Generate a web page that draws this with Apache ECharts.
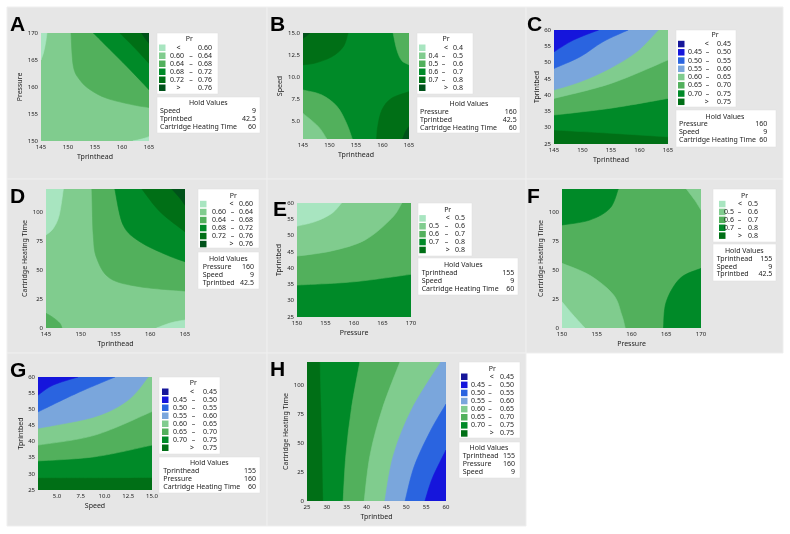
<!DOCTYPE html>
<html><head><meta charset="utf-8">
<script src="https://cdn.jsdelivr.net/npm/echarts@6/dist/echarts.min.js"></script>
<style>html,body{margin:0;padding:0;background:#fff}#c{width:790px;height:534px}</style>
</head><body><div id="c"></div>
<script>
// ================= DATA =================
// contour band colours
const MINT='#a8e5c0', LIGHT='#80cc8e', MID='#52b05c', GREEN='#008a28', DARK='#006f16', DARKEST='#00521a';
const NAVY='#16169a', BLUE='#1515dc', ROYAL='#2a64e0', SKY='#7aa6dc';
const colors6 = [MINT, LIGHT, MID, GREEN, DARK, DARKEST];
const colors5 = [MINT, LIGHT, MID, GREEN, DARK];
const colors8 = [NAVY, BLUE, ROYAL, SKY, LIGHT, MID, GREEN, DARK];

// legend break values (Pr)
const breaksA = ['0.60','0.64','0.68','0.72','0.76'];
const breaksB = ['0.4','0.5','0.6','0.7','0.8'];
const breaksC = ['0.45','0.50','0.55','0.60','0.65','0.70','0.75'];
const breaksD = ['0.60','0.64','0.68','0.72','0.76'];
const breaksE = ['0.5','0.6','0.7','0.8'];
const breaksF = ['0.5','0.6','0.7','0.8'];
const breaksG = ['0.45','0.50','0.55','0.60','0.65','0.70','0.75'];
const breaksH = ['0.45','0.50','0.55','0.60','0.65','0.70','0.75'];

// hold values
const holdA = [['Speed','9'],['Tprintbed','42.5'],['Cartridge Heating Time','60']];
const holdB = [['Pressure','160'],['Tprintbed','42.5'],['Cartridge Heating Time','60']];
const holdC = [['Pressure','160'],['Speed','9'],['Cartridge Heating Time','60']];
const holdD = [['Pressure','160'],['Speed','9'],['Tprintbed','42.5']];
const holdE = [['Tprinthead','155'],['Speed','9'],['Cartridge Heating Time','60']];
const holdF = [['Tprinthead','155'],['Speed','9'],['Tprintbed','42.5']];
const holdG = [['Tprinthead','155'],['Pressure','160'],['Cartridge Heating Time','60']];
const holdH = [['Tprinthead','155'],['Pressure','160'],['Speed','9']];

// axis ticks
const ticksTprinthead = [145,150,155,160,165];
const ticksPressure = [150,155,160,165,170];
const ticksSpeed = [5,7.5,10,12.5,15];
const ticksTprintbed = [25,30,35,40,45,50,55,60];
const ticksCHT = [0,25,50,75,100];

// contour regions: [band index, contour line points, closing corner points]
const regionsA = [
  [1, [], [[145,150],[165,150],[165,170],[145,170]]],
  [0, [[146.1,170],[145.9,168.5],[145.5,166.5],[145,165]], [[145,170]]],
  [0, [[162,150],[163.8,150.4],[165,150.8]], [[165,150]]],
  [2, [[150.55,170],[151.0,163.8],[152.2,161.3],[154.1,159.5],[157.2,157.9],[162.0,156.7],[165,156.2]], [[165,170]]],
  [3, [[154.7,170],[157.8,166.9],[160.9,163.8],[163.3,161.3],[165,159.5]], [[165,170]]],
  [4, [[159.6,170],[162.1,167.5],[165,164.4]], [[165,170]]],
  [5, [[163.6,170],[164.3,169],[165,168.1]], [[165,170]]]
];
const regionsB = [
  [3, [], [[145,3],[165,3],[165,15],[145,15]]],
  [4, [[153.5,15],[152.6,13.45],[150.4,12.3],[147.3,11.6],[145,11.4]], [[145,15]]],
  [5, [[146.3,15],[145.7,14.7],[145,14.4]], [[145,15]]],
  [2, [[162.0,15],[162.7,13.1],[163.6,11.9],[165,11.4]], [[165,15]]],
  [2, [[145,8.55],[148.5,8.0],[151.4,6.7],[153.2,4.8],[154.3,3]], [[145,3]]],
  [1, [[145,5.9],[147.9,4.4],[149.5,3]], [[145,3]]],
  [4, [[165,8.35],[161.7,7.6],[159.9,6.3],[159.1,4.4],[158.9,3]], [[165,3]]],
  [5, [[165,4.4],[164.3,3.8],[163.8,3]], [[165,3]]]
];
const regionsC = [
  [7, [], [[145,25],[165,25],[165,60],[145,60]]],
  [6, [[145,29.3],[155,28.3],[165,27.2]], [[165,60],[145,60]]],
  [5, [[145,33.9],[155,36.0],[165,39.0]], [[165,60],[145,60]]],
  [4, [[145,39.0],[155,43.6],[165,50.8]], [[165,60],[145,60]]],
  [3, [[145,41.6],[149.6,44.1],[154.8,48.2],[159.5,53.3],[163.3,60]], [[145,60]]],
  [2, [[145,48.2],[149.6,51.8],[153.6,56.4],[158,60]], [[145,60]]],
  [1, [[145,53.3],[148.4,56.9],[152.8,60]], [[145,60]]]
];
const regionsD = [
  [1, [], [[145,0],[165,0],[165,120],[145,120]]],
  [0, [[147.5,120],[146.9,97.5],[146.05,86.0],[145,80.3]], [[145,120]]],
  [0, [[160.9,0],[163,4.5],[165,6.9]], [[165,0]]],
  [2, [[145,12.7],[146.05,8.9],[147.0,4.0],[147.3,0]], [[145,0]]],
  [2, [[151.6,120],[151.8,80.3],[152.3,60.2],[154.2,42.9],[158.5,35.6],[165,31.9]], [[165,120]]],
  [3, [[154.9,120],[156.1,88.9],[158.5,74.5],[162.4,63.0],[165,57.2]], [[165,120]]],
  [4, [[158.8,120],[161.4,100.4],[165,83.1]], [[165,120]]],
  [5, [[163.1,120],[164.3,111.9],[165,106.1]], [[165,120]]]
];
const regionsE = [
  [3, [], [[150,25],[170,25],[170,60],[150,60]]],
  [2, [[150,34.8],[159.9,35.8],[170,38.1]], [[170,60],[150,60]]],
  [1, [[150,43.7],[156.1,45.3],[161.9,48.6],[166.6,55.3],[168.4,60]], [[150,60]]],
  [0, [[150,52.9],[153.2,54.3],[156.1,56.8],[157.8,60]], [[150,60]]]
];
const regionsF = [
  [2, [], [[150,0],[170,0],[170,120],[150,120]]],
  [3, [[158.1,120],[156.9,103.3],[154.0,93.2],[150,88.9]], [[150,120]]],
  [1, [[167.9,120],[169.1,110.4],[170,101.8]], [[170,120]]],
  [1, [[150,55.8],[154.0,45.5],[157.4,28.7],[158.6,11.2],[159.1,0]], [[150,0]]],
  [0, [[150,22.7],[151.6,11.2],[153.3,0]], [[150,0]]],
  [3, [[170,51.5],[167.0,42.9],[165.0,22.7],[164.6,0]], [[170,0]]]
];
const regionsG = [
  [7, [], [[3,25],[15,25],[15,60],[3,60]]],
  [6, [[3,28.8],[9,28.8],[15,28.9]], [[15,60],[3,60]]],
  [5, [[3,34.0],[9,35.3],[15,38.9]], [[15,60],[3,60]]],
  [4, [[3,38.9],[9,42.0],[15,49.3]], [[15,60],[3,60]]],
  [3, [[3,44.1],[9,47.7],[12.5,52.9],[14.6,60]], [[3,60]]],
  [2, [[3,49.2],[7.1,55.0],[11.1,60]], [[3,60]]],
  [1, [[3,54.4],[4.6,57.5],[7.2,60]], [[3,60]]]
];
const regionsH = [
  [7, [], [[25,0],[60,0],[60,120],[25,120]]],
  [6, [[29.1,0],[28.9,40],[28.6,80],[28.3,120]], [[60,120],[60,0]]],
  [5, [[34.1,0],[34.8,40],[36.2,80],[38.3,120]], [[60,120],[60,0]]],
  [4, [[39.4,0],[40.9,40],[44.0,80],[48.4,120]], [[60,120],[60,0]]],
  [3, [[44.6,0],[46.8,40],[51.5,80],[58.7,120]], [[60,120],[60,0]]],
  [2, [[49.7,0],[52.0,30],[56.0,60],[60,83.7]], [[60,0]]],
  [1, [[54.7,0],[56.6,20],[60,44.0]], [[60,0]]]
];

// ================= LAYOUT =================
const FONT = '"Noto Sans", "Open Sans", sans-serif';
const TXT = '#1e1e1e';
const panels = [
 {L:'A', lx:10, ly:25, g:{left:41,top:33,width:108,height:108}, x:{name:'Tprinthead',min:145,max:165,ticks:ticksTprinthead,gap:12}, y:{name:'Pressure',min:150,max:170,ticks:ticksPressure,gap:18},
  regions:regionsA, colors:colors6, breaks:breaksA, hold:holdA,
  leg:{x:157,y:33,w:61,h:61,prX:189.3,prY:39.3,r0:47.7,dy:8,sw:159,lR:184,dash:191,rL:198,sym:178.5},
  hb:{x:157,y:97,w:103,h:36,tX:208.3,tY:103.3,r0:111,dy:8,nX:160,vR:256}},
 {L:'B', lx:270, ly:25, g:{left:303,top:33,width:106,height:106}, x:{name:'Tprinthead',min:145,max:165,ticks:ticksTprinthead,gap:12}, y:{name:'Speed',min:3,max:15,ticks:ticksSpeed,gap:20,dec:1},
  regions:regionsB, colors:colors6, breaks:breaksB, hold:holdB,
  leg:{x:417,y:33,w:56,h:61,prX:446,prY:39.3,r0:47.7,dy:8,sw:419,lR:438.3,dash:443.5,rL:453,sym:446},
  hb:{x:417,y:97,w:103,h:36,tX:469,tY:104.3,r0:112.3,dy:7.7,nX:420,vR:516.7}},
 {L:'C', lx:527, ly:25, g:{left:554,top:30,width:114,height:114}, x:{name:'Tprinthead',min:145,max:165,ticks:ticksTprinthead,gap:12}, y:{name:'Tprintbed',min:25,max:60,ticks:ticksTprintbed,gap:13},
  regions:regionsC, colors:colors8, breaks:breaksC, hold:holdC,
  leg:{x:676,y:30,w:60,h:77,prX:715,prY:35,r0:44,dy:8.25,sw:678,lR:702,dash:707.5,rL:717,sym:706.7},
  hb:{x:676,y:110,w:100,h:37,tX:725,tY:116.7,r0:124.3,dy:7.85,nX:679,vR:767.3}},
 {L:'D', lx:10, ly:197.5, g:{left:46,top:189,width:139,height:139}, x:{name:'Tprinthead',min:145,max:165,ticks:ticksTprinthead,gap:12}, y:{name:'Cartridge Heating Time',min:0,max:120,ticks:ticksCHT,gap:18},
  regions:regionsD, colors:colors6, breaks:breaksD, hold:holdD,
  leg:{x:198,y:189,w:61,h:59,prX:233.3,prY:195.7,r0:204,dy:8,sw:200,lR:226,dash:232.5,rL:239,sym:231.5},
  hb:{x:198,y:252,w:61,h:37,tX:228.3,tY:259,r0:266.7,dy:8,nX:202.7,vR:254}},
 {L:'E', lx:273, ly:210, g:{left:297,top:203,width:114,height:114}, x:{name:'Pressure',min:150,max:170,ticks:ticksPressure,gap:12}, y:{name:'Tprintbed',min:25,max:60,ticks:ticksTprintbed,gap:15},
  regions:regionsE, colors:colors5, breaks:breaksE, hold:holdE,
  leg:{x:418,y:203,w:54,h:53,prX:447.7,prY:210,r0:218.3,dy:7.9,sw:419.3,lR:439,dash:446.5,rL:455,sym:447.7},
  hb:{x:418,y:258,w:100,h:37,tX:463.3,tY:265,r0:273.3,dy:8,nX:421.7,vR:514.3}},
 {L:'F', lx:527, ly:197.5, g:{left:562,top:189,width:139,height:139}, x:{name:'Pressure',min:150,max:170,ticks:ticksPressure,gap:12}, y:{name:'Cartridge Heating Time',min:0,max:120,ticks:ticksCHT,gap:18},
  regions:regionsF, colors:colors5, breaks:breaksF, hold:holdF,
  leg:{x:713,y:189,w:63,h:53,prX:744.5,prY:195.7,r0:204,dy:7.9,sw:719,lR:734,dash:739.5,rL:748,sym:740},
  hb:{x:713,y:244,w:63,h:37,tX:744.3,tY:251,r0:259,dy:7.7,nX:716.7,vR:772.3}},
 {L:'G', lx:10, ly:371, g:{left:38,top:377,width:114,height:113}, x:{name:'Speed',min:3,max:15,ticks:ticksSpeed,gap:12,dec:1}, y:{name:'Tprintbed',min:25,max:60,ticks:ticksTprintbed,gap:14},
  regions:regionsG, colors:colors8, breaks:breaksG, hold:holdG,
  leg:{x:159,y:377,w:61,h:77,prX:193.3,prY:383.3,r0:391.7,dy:8,sw:162,lR:187,dash:193.5,rL:203,sym:192},
  hb:{x:159,y:457,w:101,h:36,tX:209.3,tY:463.3,r0:471,dy:7.85,nX:163.3,vR:256}},
 {L:'H', lx:270, ly:370.5, g:{left:307,top:362,width:139,height:139}, x:{name:'Tprintbed',min:25,max:60,ticks:ticksTprintbed,gap:12}, y:{name:'Cartridge Heating Time',min:0,max:120,ticks:ticksCHT,gap:18},
  regions:regionsH, colors:colors8, breaks:breaksH, hold:holdH,
  leg:{x:459,y:362,w:61,h:76,prX:492.3,prY:369,r0:376.7,dy:8.1,sw:461,lR:485,dash:490,rL:500,sym:491.7},
  hb:{x:459,y:442,w:61,h:36,tX:489,tY:448.3,r0:456,dy:8.1,nX:462.7,vR:515}}
];
const panelBoxes = [[7,7,260,172],[267,7,259,172],[526,7,257,172],[7,179,260,174],[267,179,259,174],[526,179,257,174],[7,353,260,173],[267,353,259,173]];

// ================= BUILD =================
function makeRender(regions, cols) {
  return function (params, api) {
    const r = regions[params.dataIndex];
    const cp = r[1].map(p => api.coord(p));
    const kp = r[2].map(p => api.coord(p));
    let d;
    if (cp.length) {
      d = 'M' + cp[0][0] + ' ' + cp[0][1];
      for (let i = 0; i < cp.length - 1; i++) {
        const p0 = cp[i - 1] || cp[i], p1 = cp[i], p2 = cp[i + 1], p3 = cp[i + 2] || p2;
        const c1 = [p1[0] + (p2[0] - p0[0]) / 6, p1[1] + (p2[1] - p0[1]) / 6];
        const c2 = [p2[0] - (p3[0] - p1[0]) / 6, p2[1] - (p3[1] - p1[1]) / 6];
        d += ' C' + c1[0] + ' ' + c1[1] + ' ' + c2[0] + ' ' + c2[1] + ' ' + p2[0] + ' ' + p2[1];
      }
      kp.forEach(p => { d += ' L' + p[0] + ' ' + p[1]; });
    } else {
      d = 'M' + kp.map(p => p[0] + ' ' + p[1]).join(' L');
    }
    d += ' Z';
    const cs = params.coordSys;
    const c = cols[r[0]];
    return {
      type: 'path', shape: { pathData: d },
      style: { fill: c, stroke: c, lineWidth: 0.6 },
      clipPath: { type: 'rect', shape: { x: cs.x, y: cs.y, width: cs.width, height: cs.height } }
    };
  };
}
function axis(i, a) {
  const fmt = a.dec ? (v => Number(v).toFixed(a.dec)) : (v => String(v));
  return {
    gridIndex: i, type: 'value', min: a.min, max: a.max,
    name: a.name, nameLocation: 'middle', nameGap: a.gap,
    nameTextStyle: { fontSize: 7, color: TXT, fontFamily: FONT },
    axisLine: { show: false }, splitLine: { show: false },
    axisTick: { show: false, customValues: a.ticks },
    axisLabel: { customValues: a.ticks, fontSize: 6, color: TXT, fontFamily: FONT, margin: 3, formatter: fmt, hideOverlap: false }
  };
}
const grids = [], xAxes = [], yAxes = [], series = [], graphics = [];
panelBoxes.forEach(b => graphics.push({ type: 'rect', z: -10, silent: true, shape: { x: b[0], y: b[1], width: b[2], height: b[3] }, style: { fill: '#e6e6e6', stroke: '#efefef', lineWidth: 1 } }));
function txt(t, x, y, align, size) {
  return { type: 'text', z: 20, silent: true, style: { text: t, x: x, y: y, align: align, verticalAlign: 'middle', fill: TXT, font: (size || 7) + 'px ' + FONT } };
}
panels.forEach((p, i) => {
  grids.push(Object.assign({ show: false }, p.g));
  xAxes.push(axis(i, p.x));
  yAxes.push(axis(i, p.y));
  series.push({
    type: 'custom', xAxisIndex: i, yAxisIndex: i, coordinateSystem: 'cartesian2d',
    renderItem: makeRender(p.regions, p.colors),
    data: p.regions.map(r => (r[1].length ? r[1][0] : r[2][0])),
    silent: true, animation: false
  });
  graphics.push({ type: 'text', z: 20, silent: true, style: { text: p.L, x: p.lx, y: p.ly, align: 'left', verticalAlign: 'middle', fill: '#000', font: 'bold 21px "Liberation Sans Narrow", "Liberation Sans", Arial, sans-serif' } });
  const L = p.leg;
  graphics.push({ type: 'rect', z: 15, silent: true, shape: { x: L.x, y: L.y, width: L.w, height: L.h }, style: { fill: '#fff', stroke: '#dddddd', lineWidth: 0.5 } });
  graphics.push(txt('Pr', L.prX, L.prY, 'center'));
  const n = p.breaks.length;
  for (let k = 0; k <= n; k++) {
    const y = L.r0 + k * L.dy;
    graphics.push({ type: 'rect', z: 20, silent: true, shape: { x: L.sw, y: y - 3.2, width: 6.5, height: 6.5 }, style: { fill: p.colors[k] } });
    if (k === 0) { graphics.push(txt('<', L.sym, y, 'center')); graphics.push(txt(p.breaks[0], L.rL, y, 'left')); }
    else if (k === n) { graphics.push(txt('>', L.sym, y, 'center')); graphics.push(txt(p.breaks[n - 1], L.rL, y, 'left')); }
    else {
      graphics.push(txt(p.breaks[k - 1], L.lR, y, 'right'));
      graphics.push(txt('–', L.dash, y, 'center'));
      graphics.push(txt(p.breaks[k], L.rL, y, 'left'));
    }
  }
  const H = p.hb;
  graphics.push({ type: 'rect', z: 15, silent: true, shape: { x: H.x, y: H.y, width: H.w, height: H.h }, style: { fill: '#fff', stroke: '#dddddd', lineWidth: 0.5 } });
  graphics.push(txt('Hold Values', H.tX, H.tY, 'center'));
  p.hold.forEach((h, k) => {
    const y = H.r0 + k * H.dy;
    graphics.push(txt(h[0], H.nX, y, 'left'));
    graphics.push(txt(h[1], H.vR, y, 'right'));
  });
});

const chart = echarts.init(document.getElementById('c'), null, { renderer: 'canvas' });
chart.setOption({
  animation: false, backgroundColor: '#ffffff',
  grid: grids, xAxis: xAxes, yAxis: yAxes, series: series, graphic: graphics
});
</script></body></html>
